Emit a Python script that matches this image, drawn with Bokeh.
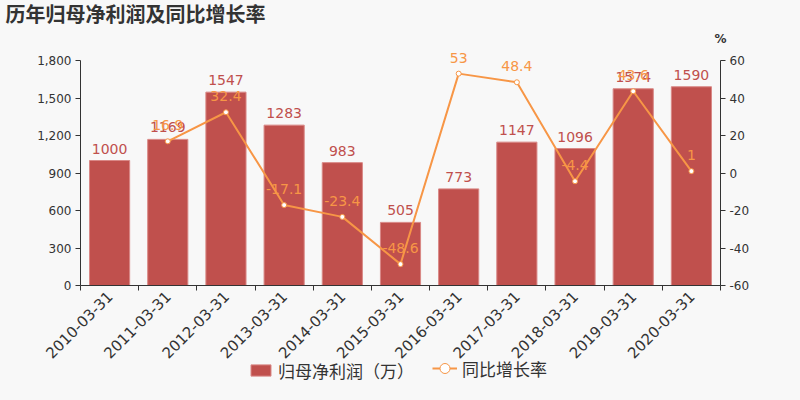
from bokeh.plotting import figure
from bokeh.models import (Range1d, LinearAxis, FixedTicker, NumeralTickFormatter, Label,
                          ColumnDataSource, Legend, LegendItem, GlobalInlineStyleSheet)
from bokeh.core.properties import value
from bokeh.embed import file_html
from bokeh.resources import INLINE
import math

# ---- data ----
dates = ["2010-03-31", "2011-03-31", "2012-03-31", "2013-03-31", "2014-03-31", "2015-03-31",
         "2016-03-31", "2017-03-31", "2018-03-31", "2019-03-31", "2020-03-31"]
profit = [1000, 1169, 1547, 1283, 983, 505, 773, 1147, 1096, 1574, 1590]
growth_dates = dates[1:]
growth = [16.9, 32.4, -17.1, -23.4, -48.6, 53, 48.4, -4.4, 43.6, 1]
growth_labels = ["16.9", "32.4", "-17.1", "-23.4", "-48.6", "53", "48.4", "-4.4", "43.6", "1"]
left_ticks = [0, 300, 600, 900, 1200, 1500, 1800]
right_ticks = [-60, -40, -20, 0, 20, 40, 60]

BAR = "#c0504d"
LINE = "#f79646"
TXT = "#333333"
BG = "#f8f8f8"
NUM_FONT = "DejaVu Sans"
CJK_FONT = "Noto Sans CJK SC"

W, H = 784, 384
# plot area in pixels (axes box): x 80..720, y 60..285
L, R, T, B = 80, 720, 60, 285
n = len(dates)
ux = (R - L) / n                 # px per category
uy = (B - T) / 1800              # px per profit unit
up = (B - T) / 120               # px per percent

x_range = Range1d(-L / ux, n + (W - R) / ux)
y_range = Range1d(-(H - B) / uy, 1800 + T / uy)
pct_range = Range1d(-60 - (H - B) / up, 60 + T / up)

xc = [i + 0.5 for i in range(n)]
idx = {d: i for i, d in enumerate(dates)}
gx = [idx[d] + 0.5 for d in growth_dates]

bar_src = ColumnDataSource(dict(x=xc, y=profit, t=[str(v) for v in profit]))
g_src = ColumnDataSource(dict(x=gx, y=growth, t=growth_labels))

p = figure(width=W, height=H, output_backend="svg", toolbar_location=None, title=None,
           x_range=x_range, y_range=y_range, x_axis_location=None, y_axis_location=None,
           min_border=0)
p.extra_y_ranges = {"pct": pct_range}
p.background_fill_color = BG
p.border_fill_color = BG
p.outline_line_color = None
p.grid.visible = False

# bars
bars = p.vbar(x="x", top="y", width=0.69, source=bar_src, fill_color=BAR,
              line_color="#d98886", line_width=1)
p.text(x="x", y="y", text="t", source=bar_src, text_align="center", text_baseline="bottom",
       y_offset=-7, text_font=value(NUM_FONT), text_font_size="14px", text_color=BAR)

# growth line
ln = p.line(x="x", y="y", source=g_src, y_range_name="pct", line_color=LINE, line_width=2)
sc = p.scatter(x="x", y="y", source=g_src, y_range_name="pct", size=5,
               fill_color="white", line_color=LINE, line_width=1)
p.text(x="x", y="y", text="t", source=g_src, y_range_name="pct", text_align="center",
       text_baseline="bottom", y_offset=-11, text_font=value(NUM_FONT),
       text_font_size="14px", text_color=LINE)

# axes (fixed inside the frame)
la = LinearAxis(ticker=FixedTicker(ticks=left_ticks), formatter=NumeralTickFormatter(format="0,0"),
                bounds=(0, 1800), fixed_location=0)
p.add_layout(la, "left")
ra = LinearAxis(y_range_name="pct", ticker=FixedTicker(ticks=right_ticks), bounds=(-60, 60),
                fixed_location=n)
ra.major_label_overrides = {t: str(t) for t in right_ticks}
p.add_layout(ra, "right")
for ax in (la, ra):
    ax.minor_tick_line_color = None
    ax.major_tick_in = 0
    ax.major_tick_out = 5
    ax.major_tick_line_color = TXT
    ax.axis_line_color = TXT
    ax.major_label_text_font = NUM_FONT
    ax.major_label_text_font_size = "12px"
    ax.major_label_text_color = TXT
    ax.major_label_standoff = 4

xa = LinearAxis(ticker=FixedTicker(ticks=xc, minor_ticks=list(range(n + 1))),
                bounds=(0, n), fixed_location=0)
xa.major_label_overrides = {x: d for x, d in zip(xc, dates)}
xa.major_label_orientation = math.pi / 4
xa.major_tick_line_color = None
xa.minor_tick_in = 0
xa.minor_tick_out = 5
xa.minor_tick_line_color = TXT
xa.axis_line_color = TXT
xa.major_label_text_font = NUM_FONT
xa.major_label_text_font_size = "15px"
xa.major_label_text_color = TXT
xa.major_label_standoff = 2
p.add_layout(xa, "below")

# title and unit
p.add_layout(Label(x=5, y=H - 13, x_units="screen", y_units="screen",
                   text="历年归母净利润及同比增长率", text_font=CJK_FONT,
                   text_font_size="20px", text_font_style="bold", text_color=TXT,
                   text_baseline="middle", text_align="left"))
p.add_layout(Label(x=R, y=H - 38, x_units="screen", y_units="screen", text="%",
                   text_font=NUM_FONT, text_font_size="12px", text_font_style="bold",
                   text_color=TXT, text_baseline="middle", text_align="center"))

common = dict(orientation="horizontal", glyph_width=25, label_standoff=5, padding=0, margin=0,
              border_line_color=None, background_fill_alpha=0, label_text_font=CJK_FONT,
              label_text_font_size="17px", label_text_color=TXT, label_height=26)
leg1 = Legend(items=[LegendItem(label="归母净利润（万）", renderers=[bars])],
              location=(248, 1), glyph_height=14, **common)
leg2 = Legend(items=[LegendItem(label="同比增长率", renderers=[ln, sc])],
              location=(432, 1), glyph_height=30, **common)
p.add_layout(leg1)
p.add_layout(leg2)

p.stylesheets = [GlobalInlineStyleSheet(css="body{background:#f8f8f8;}")]

open("out.html", "w").write(file_html(p, INLINE))
